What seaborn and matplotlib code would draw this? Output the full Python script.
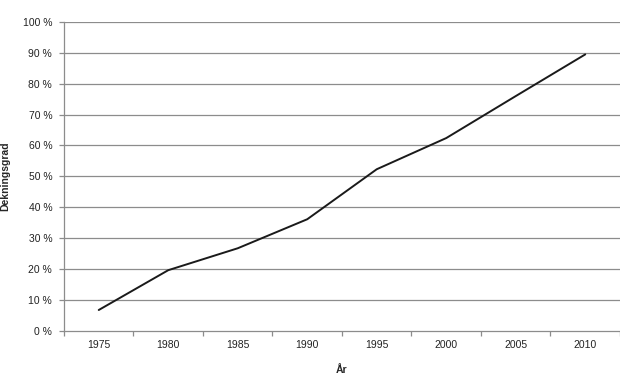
import matplotlib
matplotlib.use("Agg")
import matplotlib.pyplot as plt
import seaborn as sns
import pandas as pd
import numpy as np
from matplotlib.ticker import FixedLocator

years = ["1975", "1980", "1985", "1990", "1995", "2000", "2005", "2010"]
coverage = [6.7, 19.6, 26.7, 36.1, 52.3, 62.4, 76.0, 89.5]
yticks = [0, 10, 20, 30, 40, 50, 60, 70, 80, 90, 100]
ytick_labels = [f"{v} %" for v in yticks]

sns.set_theme(style="white")
plt.rcParams['font.family'] = ['Liberation Sans', 'DejaVu Sans']

df = pd.DataFrame({"År": years, "Dekningsgrad": coverage})

fig = plt.figure(figsize=(6.2, 3.92), dpi=100)
ax = fig.add_axes([0.1032, 0.1564, 0.8968, 0.7875])

sns.lineplot(data=df, x="År", y="Dekningsgrad", ax=ax, color="#1a1a1a",
             linewidth=1.4, sort=False)

ax.set_xlim(-0.5, len(years) - 0.5)
ax.set_ylim(0, 100)
ax.set_yticks(yticks)
ax.set_yticklabels(ytick_labels)
ax.set_xticks(range(len(years)))
ax.set_xticklabels(years)
ax.xaxis.set_minor_locator(FixedLocator(np.arange(-0.5, len(years), 1.0)))

for v in yticks[1:]:
    ax.axhline(v, color="#8c8c8c", linewidth=0.9, zorder=0)

for s in ["top", "right"]:
    ax.spines[s].set_visible(False)
for s in ["left", "bottom"]:
    ax.spines[s].set_visible(True)
    ax.spines[s].set_color("#8c8c8c")
    ax.spines[s].set_linewidth(0.9)

ax.tick_params(axis="x", which="major", length=0, pad=6.5, labelsize=7.5, colors="#222222")
ax.tick_params(axis="x", which="minor", length=3.5, width=0.9, color="#8c8c8c", bottom=True, direction="out")
ax.tick_params(axis="y", which="major", length=3.5, width=0.9, color="#8c8c8c", left=True,
               direction="out", labelsize=7.5, labelcolor="#222222", pad=5)

ax.set_xlabel("År", fontsize=7.5, fontweight="bold")
ax.set_ylabel("Dekningsgrad", fontsize=7.5, fontweight="bold")
ax.xaxis.set_label_coords(0.5, -0.11)
ax.yaxis.set_label_coords(-0.097, 0.5)

fig.savefig("out.png", dpi=100, facecolor="white")
